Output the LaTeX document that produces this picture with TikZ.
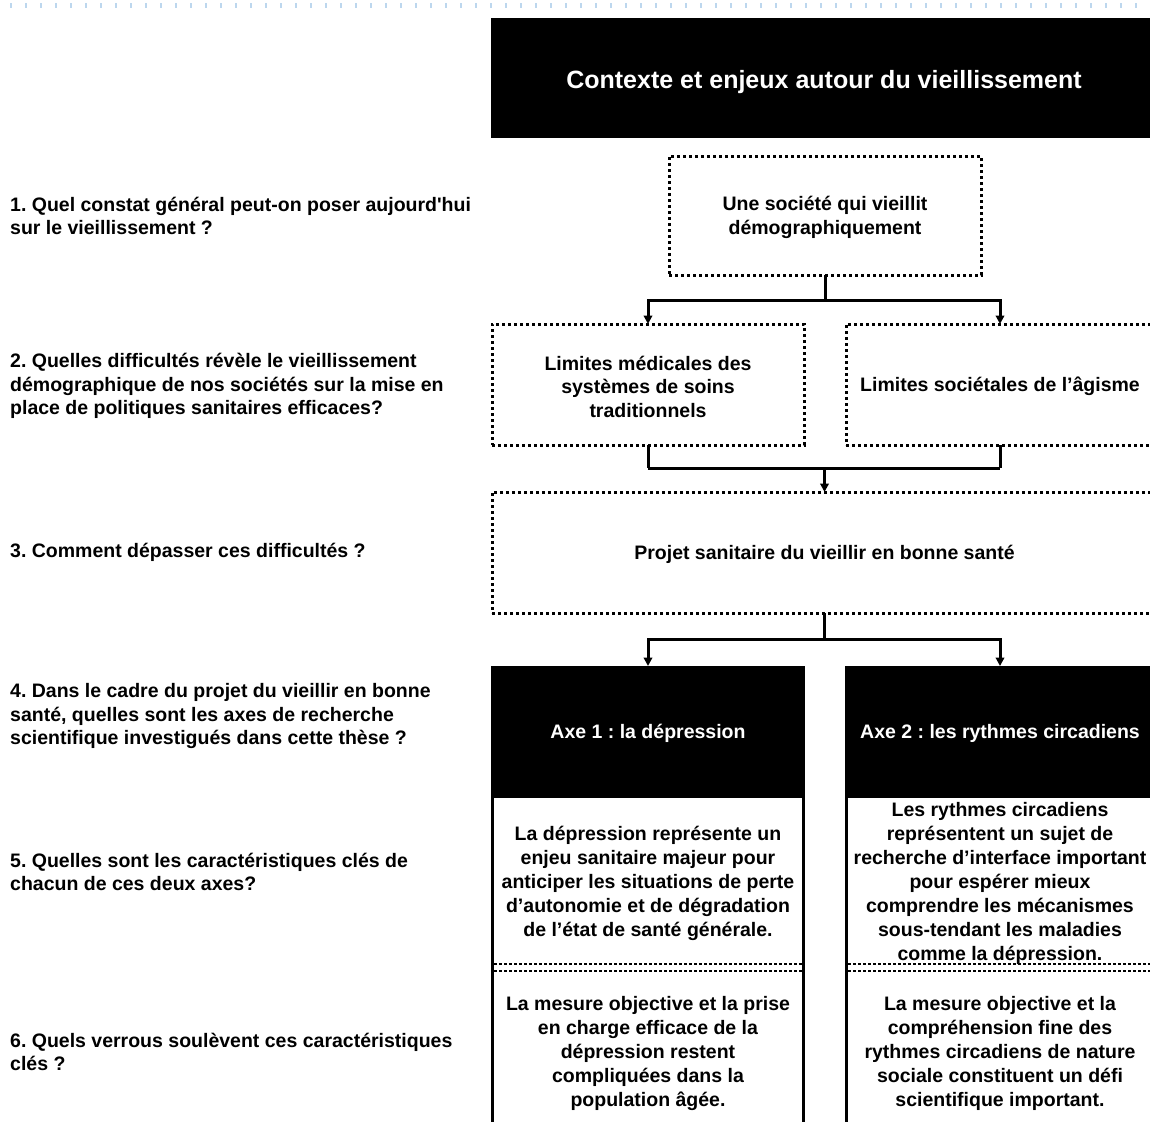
\documentclass[tikz,border=0pt]{standalone}
\usepackage{fontspec}
\setmainfont{Liberation Sans}
\usetikzlibrary{arrows.meta}
\definecolor{pageblue}{RGB}{189,215,238}
\frenchspacing
\begin{document}
\begin{tikzpicture}[x=1pt,y=-1pt,
  txt/.style={font=\fontsize{19.5}{24}\selectfont\bfseries, align=center, inner sep=0pt},
  boxtext/.style={font=\fontsize{19.5}{23.5}\selectfont\bfseries, align=center, inner sep=0pt, yshift=-2pt},
  question/.style={font=\fontsize{19.5}{23.4}\selectfont\bfseries, align=left, anchor=west, inner sep=0pt},
  dotbox/.style={draw, line width=3pt, dash pattern=on 3pt off 3pt, anchor=north west, inner sep=0pt, outer sep=0pt},
  blackbox/.style={fill=black, anchor=north west, inner sep=0pt, outer sep=0pt},
  conn/.style={line width=3pt},
  arr/.style={line width=3pt, -{Triangle[width=8.5pt,length=8.5pt]}},
  solidside/.style={line width=3pt},
  dotsep/.style={line width=2.5pt, dash pattern=on 2.5pt off 2.5pt}
]
\useasboundingbox (0,0) rectangle (1150,1121);
\clip (0,0) rectangle (1150,1121);
\fill[white] (0,0) rectangle (1150,1121);
% page artefact line
\draw[pageblue, line width=5pt, dash pattern=on 2pt off 13pt] (10,6) -- (1150,6);

% header
\node[blackbox, minimum width=666pt, minimum height=120pt,
  label={[boxtext, text=white, yshift=-2pt, font=\fontsize{25}{30}\selectfont\bfseries]center:Contexte et enjeux autour du vieillissement}] (hdr) at (491,18) {};

% level 1
\node[dotbox, minimum width=312pt, minimum height=119pt,
  label={[boxtext]center:{Une société qui vieillit\\démographiquement}}] (b1) at (669,156) {};
% level 2
\node[dotbox, minimum width=312pt, minimum height=121pt,
  label={[boxtext]center:{Limites médicales des\\systèmes de soins\\traditionnels}}] (b2l) at (492,324) {};
\node[dotbox, minimum width=308pt, minimum height=121pt,
  label={[boxtext]center:{Limites sociétales de l’âgisme}}] (b2r) at (846,324) {};
% level 3
\node[dotbox, minimum width=665pt, minimum height=121pt,
  label={[boxtext]center:{Projet sanitaire du vieillir en bonne santé}}] (b3) at (492,492) {};
% level 4
\node[blackbox, minimum width=314pt, minimum height=132pt,
  label={[boxtext, text=white, yshift=1pt]center:{Axe 1 : la dépression}}] (a1) at (491,666) {};
\node[blackbox, minimum width=310pt, minimum height=132pt,
  label={[boxtext, text=white, yshift=1pt]center:{Axe 2 : les rythmes circadiens}}] (a2) at (845,666) {};

% lower boxes sides
\draw[solidside] (492.5,798) -- (492.5,1125);
\draw[solidside] (803.5,798) -- (803.5,1125);
\draw[solidside] (846.5,798) -- (846.5,1125);
\draw[dotsep] (494,964) -- (802,964);
\draw[dotsep] (494,971) -- (802,971);
\draw[dotsep] (848,964) -- (1150,964);
\draw[dotsep] (848,971) -- (1150,971);

% lower texts
\node[txt] (l1) at (648,883) {La dépression représente un\\enjeu sanitaire majeur pour\\anticiper les situations de perte\\d’autonomie et de dégradation\\de l’état de santé générale.};
\node[txt] (r1) at (1000,883) {Les rythmes circadiens\\représentent un sujet de\\recherche d’interface important\\pour espérer mieux\\comprendre les mécanismes\\sous-tendant les maladies\\comme la dépression.};
\node[txt] (l2) at (648,1053) {La mesure objective et la prise\\en charge efficace de la\\dépression restent\\compliquées dans la\\population âgée.};
\node[txt] (r2) at (1000,1053) {La mesure objective et la\\compréhension fine des\\rythmes circadiens de nature\\sociale constituent un défi\\scientifique important.};

% questions
\node[question] (q1) at (10,216) {1. Quel constat général peut-on poser aujourd\textquotesingle hui\\sur le vieillissement ?};
\node[question] (q2) at (10,386) {2. Quelles difficultés révèle le vieillissement\\démographique de nos sociétés sur la mise en\\place de politiques sanitaires efficaces?};
\node[question] (q3) at (10,552) {3. Comment dépasser ces difficultés ?};
\node[question] (q4) at (10,716) {4. Dans le cadre du projet du vieillir en bonne\\santé, quelles sont les axes de recherche\\scientifique investigués dans cette thèse ?};
\node[question] (q5) at (10,872) {5. Quelles sont les caractéristiques clés de\\chacun de ces deux axes?};
\node[question] (q6) at (10,1052) {6. Quels verrous soulèvent ces caractéristiques\\clés ?};

% connectors
\draw[conn] (b1.south) -- ++(0,25) coordinate (j1);
\draw[arr] (j1) -| (b2l.north);
\draw[arr] (j1) -| (b2r.north);

\draw[conn] (b2l.south) -- ++(0,23) coordinate (j2l);
\draw[conn] (b2r.south) -- (b2r.south |- j2l);
\draw[conn] (j2l) -- (b2r.south |- j2l);
\draw[arr] (b3.north |- j2l) -- (b3.north);

\draw[conn] (b3.south) -- ++(0,26) coordinate (j3);
\draw[arr] (j3) -| (a1.north);
\draw[arr] (j3) -| (a2.north);
\end{tikzpicture}
\end{document}
